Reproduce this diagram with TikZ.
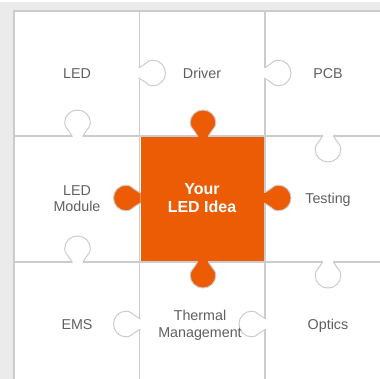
\documentclass[tikz,border=0pt]{standalone}
\usepackage{fontspec}
\setmainfont{Liberation Sans}
\definecolor{panelgrey}{HTML}{EBEBEB}
\definecolor{gridgrey}{HTML}{CCCCCC}
\definecolor{ledorange}{HTML}{EB5C05}
\definecolor{labelgrey}{HTML}{606060}
\newcommand{\puzzletab}[4]{%
  \path[shift={(#1,#2)},rotate=#3,#4]
    (-1.2,-5.5) -- (0,-5.5) .. controls (2.5,-7) and (6,-9.2) .. (8.5,-11.4)
    .. controls (10,-12.4) and (11.7,-12.8) .. (13.5,-12.8)
    .. controls (20.5,-12.8) and (26,-7) .. (26,0)
    .. controls (26,7) and (20.5,12.8) .. (13.5,12.8)
    .. controls (11.7,12.8) and (10,12.4) .. (8.5,11.4)
    .. controls (6,9.2) and (2.5,7) .. (0,5.5) -- (-1.2,5.5);%
}
\tikzset{
  gridline/.style={draw=gridgrey,line width=1.5pt},
  whitetab/.style={fill=white,draw=gridgrey,line width=1pt},
  orangetab/.style={fill=ledorange,draw=gridgrey,line width=1pt},
  label/.style={text=labelgrey,align=center,inner sep=0pt,font=\fontsize{14.3}{16.5}\selectfont},
  oneline/.style={label,anchor=base},
  idea/.style={text=white,align=center,inner sep=0pt,font=\fontsize{16}{18}\selectfont\bfseries}
}
\begin{document}
\begin{tikzpicture}[x=1pt,y=-1pt]
\useasboundingbox (0,0) rectangle (380,379);
\fill[panelgrey] (0,2) rectangle (380,379);
\fill[white] (14,11) rectangle (380,379);
% grid
\draw[gridline] (14,379) -- (14,11) -- (380,11);
\draw[gridline,line width=1.1pt] (139.5,11) -- (139.5,379);
\draw[gridline,line width=1.7pt] (265,11) -- (265,379);
\draw[gridline] (14,136) -- (380,136);
\draw[gridline] (14,262) -- (380,262);
% white tabs
\puzzletab{139.5}{73}{0}{whitetab}
\puzzletab{265}{73}{0}{whitetab}
\puzzletab{77.5}{136}{90}{whitetab}
\puzzletab{77.5}{262}{90}{whitetab}
\puzzletab{328}{136}{-90}{whitetab}
\puzzletab{328}{262}{-90}{whitetab}
\puzzletab{139.5}{324}{180}{whitetab}
\puzzletab{265}{324}{180}{whitetab}
% centre piece
\puzzletab{203}{136}{90}{orangetab}
\puzzletab{203}{262}{-90}{orangetab}
\puzzletab{139.5}{198}{180}{orangetab}
\puzzletab{265}{198}{0}{orangetab}
\fill[ledorange] (140.5,137) rectangle (264,261);
% labels
\node[oneline] (led) at (77,78.8) {LED};
\node[oneline] (driver) at (202,78.8) {Driver};
\node[oneline] (pcb) at (328,78.8) {PCB};
\node[label] (module) at (77,198.5) {LED\\Module};
\node[idea] (your) at (202,198.5) {Your\\LED Idea};
\node[oneline] (testing) at (328,203.5) {Testing};
\node[oneline] (ems) at (77,329) {EMS};
\node[label] (thermal) at (200,325.5) {Thermal\\Management};
\node[oneline] (optics) at (328,329) {Optics};
\end{tikzpicture}
\end{document}
